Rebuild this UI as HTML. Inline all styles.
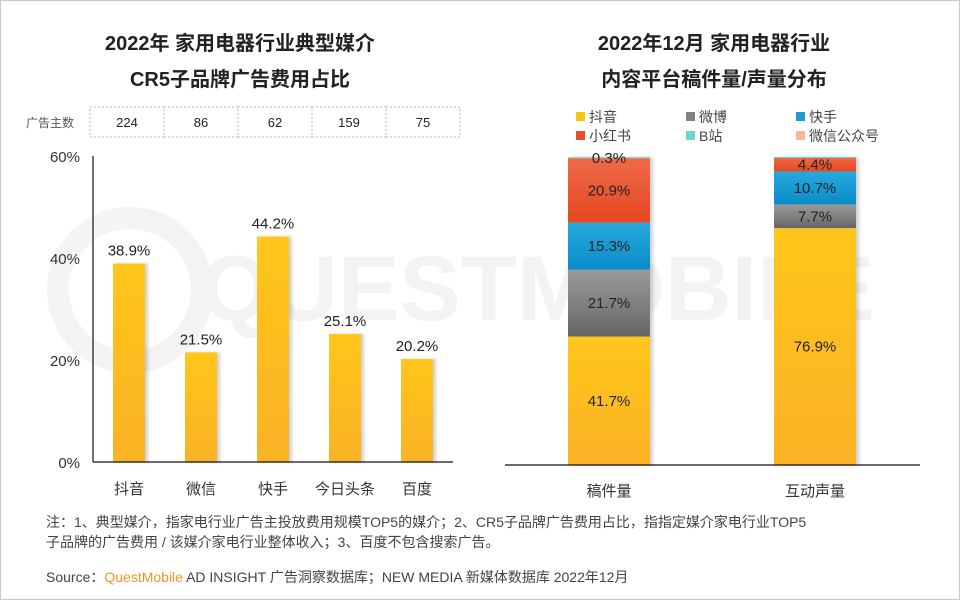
<!DOCTYPE html>
<html><head><meta charset="utf-8">
<style>
html,body{margin:0;padding:0;background:#fff;}
body{width:960px;height:600px;overflow:hidden;font-family:"Liberation Sans","Noto Sans CJK SC",sans-serif;}
svg text{font-family:"Liberation Sans","Noto Sans CJK SC",sans-serif;}
</style></head>
<body>
<svg id="chart" width="960" height="600" viewBox="0 0 960 600">
<defs>
<linearGradient id="gY" x1="0" y1="0" x2="0" y2="1"><stop offset="0" stop-color="#ffc61a"/><stop offset="1" stop-color="#fbb226"/></linearGradient>
<linearGradient id="gGray" x1="0" y1="0" x2="0" y2="1"><stop offset="0" stop-color="#9a9a9a"/><stop offset="1" stop-color="#666"/></linearGradient>
<linearGradient id="gBlue" x1="0" y1="0" x2="0" y2="1"><stop offset="0" stop-color="#27a9de"/><stop offset="1" stop-color="#0a8cc8"/></linearGradient>
<linearGradient id="gRed" x1="0" y1="0" x2="0" y2="1"><stop offset="0" stop-color="#ee6a4a"/><stop offset="1" stop-color="#e6471f"/></linearGradient>
<filter id="sh" x="-20%" y="-5%" width="140%" height="110%"><feDropShadow dx="3" dy="0" stdDeviation="1.5" flood-color="#000" flood-opacity="0.18"/></filter>
</defs>
<rect x="0.5" y="0.5" width="959" height="599" fill="#fff" stroke="#c8c8c8"/>
<g opacity="0.045">
<circle cx="130" cy="290" r="72" fill="none" stroke="#000" stroke-width="22"/>
<text x="200" y="320" font-size="92" font-weight="bold" fill="#000">QUESTMOBILE</text>
</g>
<g font-size="20" font-weight="bold" fill="#222" text-anchor="middle">
<text x="240" y="50">2022年 家用电器行业典型媒介</text>
<text x="240" y="86">CR5子品牌广告费用占比</text>
</g>
<g font-size="20" font-weight="bold" fill="#222" text-anchor="middle">
<text x="714" y="50">2022年12月 家用电器行业</text>
<text x="714" y="86">内容平台稿件量/声量分布</text>
</g>
<g id="leftChart"></g>
<g id="rightChart"></g>
<g font-size="14" fill="#444">
<text x="46" y="527">注：1、典型媒介，指家电行业广告主投放费用规模TOP5的媒介；2、CR5子品牌广告费用占比，指指定媒介家电行业TOP5</text>
<text x="46" y="547">子品牌的广告费用 / 该媒介家电行业整体收入；3、百度不包含搜索广告。</text>
</g>
<text x="46" y="582" font-size="14" fill="#444">Source：<tspan fill="#f7941d">QuestMobile</tspan> AD INSIGHT 广告洞察数据库；NEW MEDIA 新媒体数据库 2022年12月</text>
</svg>
<script>
const NS='http://www.w3.org/2000/svg';
const leftCats=['抖音','微信','快手','今日头条','百度'];
const leftValues=[38.9,21.5,44.2,25.1,20.2];
const advertiserCounts=['224','86','62','159','75'];
const leftTicks=[0,20,40,60];

const rightCats=['稿件量','互动声量'];
const rightSeries=['抖音','微博','快手','小红书','B站','微信公众号'];
const seriesDouyin=[41.7,76.9];
const seriesWeibo=[21.7,7.7];
const seriesKuaishou=[15.3,10.7];
const seriesXhs=[20.9,4.4];
const seriesBili=[0.3,0.3];
const seriesWechat=[0.1,0.0];

function mk(tag,attrs,parent,txt){const e=document.createElementNS(NS,tag);for(const k in attrs)e.setAttribute(k,attrs[k]);if(txt!==undefined)e.textContent=txt;parent.appendChild(e);return e;}

const L=document.getElementById('leftChart');
const lx0=93,lx1=453,ly0=462,ly1=156,lmax=60;
const ly=v=>ly0-(v/lmax)*(ly0-ly1);
const bandW=(lx1-lx0)/leftCats.length;
const lxc=i=>lx0+bandW*(i+0.5);
const tbl=mk('g',{},L);


const tl=mk('text',{x:50,y:127,'font-size':12,fill:'#555','text-anchor':'middle'},tbl,'广告主数');


advertiserCounts.forEach((c,i)=>{
  const x=90+i*74;
  const cell=mk('rect',{x:x,y:107,width:74,height:30,fill:'none',stroke:'#bbb','stroke-dasharray':'2,2'},tbl);
  
  
  const t=mk('text',{x:x+37,y:127,'font-size':13,fill:'#222','text-anchor':'middle'},tbl,c);
  
  
});
leftTicks.forEach(v=>{
  const t=mk('text',{x:80,y:ly(v)+6,'font-size':15,fill:'#333','text-anchor':'end'},L,v+'%');
  
  
});
leftValues.forEach((v,i)=>{
  const w=32,x=lxc(i)-w/2;
  const r=mk('rect',{x:x,y:ly(v),width:w,height:ly0-ly(v),fill:'url(#gY)',filter:'url(#sh)'},L);
  
  
  const t=mk('text',{x:lxc(i),y:ly(v)-8,'font-size':15,fill:'#222','text-anchor':'middle'},L,v.toFixed(1)+'%');
  
  
  const c=mk('text',{x:lxc(i),y:494,'font-size':15,fill:'#333','text-anchor':'middle'},L,leftCats[i]);
  
  
});
const ya=mk('line',{x1:lx0,y1:ly1,x2:lx0,y2:ly0,stroke:'#111','stroke-width':1.2},L);


const xa=mk('line',{x1:lx0,y1:ly0,x2:lx1,y2:ly0,stroke:'#111','stroke-width':1.2},L);



const R=document.getElementById('rightChart');
const ry0=465,ry1=157;
const rh=v=>v/100*(ry0-ry1);
const rCenters=[609,815];
const colors=['url(#gY)','url(#gGray)','url(#gBlue)','url(#gRed)','#5fd0cc','#f9b5a0'];
const legendColors=['#ffc20e','#808080','#1a9ad6','#e84e27','#6fd3cf','#f9b5a0'];
const allSeries=[seriesDouyin,seriesWeibo,seriesKuaishou,seriesXhs,seriesBili,seriesWechat];
const legendCols=[576,686,796];
const lg=mk('g',{},R);


rightSeries.forEach((s,i)=>{
  const x=legendCols[i%3],y=121+Math.floor(i/3)*19;
  const ent=mk('g',{},lg);
  
  
  mk('rect',{x:x,y:y-9,width:9,height:9,fill:legendColors[i]},ent);
  mk('text',{x:x+13,y:y+1,'font-size':14,fill:'#444'},ent,s);
});
rightCats.forEach((c,ci)=>{
  let base=0;
  const w=82,x=rCenters[ci]-w/2;
  const grp=mk('g',{filter:'url(#sh)'},R);
  
  
  allSeries.forEach((arr,si)=>{
    const v=arr[ci];
    if(v<=0)return;
    const yTop=ry0-rh(base+v);
    const seg=mk('rect',{x:x,y:yTop,width:w,height:rh(v),fill:colors[si]},grp);
    
    
    base+=v;
  });
  base=0;
  allSeries.forEach((arr,si)=>{
    const v=arr[ci];
    if(si<4 && v>0){
      const yMid=ry0-rh(base+v/2);
      const t=mk('text',{x:rCenters[ci],y:yMid+5,'font-size':15,fill:'#222','text-anchor':'middle'},R,v.toFixed(1)+'%');
      
      
    }
    if(si===4 && ci===0){
      const t=mk('text',{x:rCenters[ci],y:ry1+6,'font-size':15,fill:'#222','text-anchor':'middle'},R,v.toFixed(1)+'%');
      
      
    }
    base+=v;
  });
  const cl=mk('text',{x:rCenters[ci],y:496,'font-size':15,fill:'#333','text-anchor':'middle'},R,c);
  
  
});
const rxa=mk('line',{x1:505,y1:ry0,x2:920,y2:ry0,stroke:'#111','stroke-width':1.2},R);


</script>
</body></html>
